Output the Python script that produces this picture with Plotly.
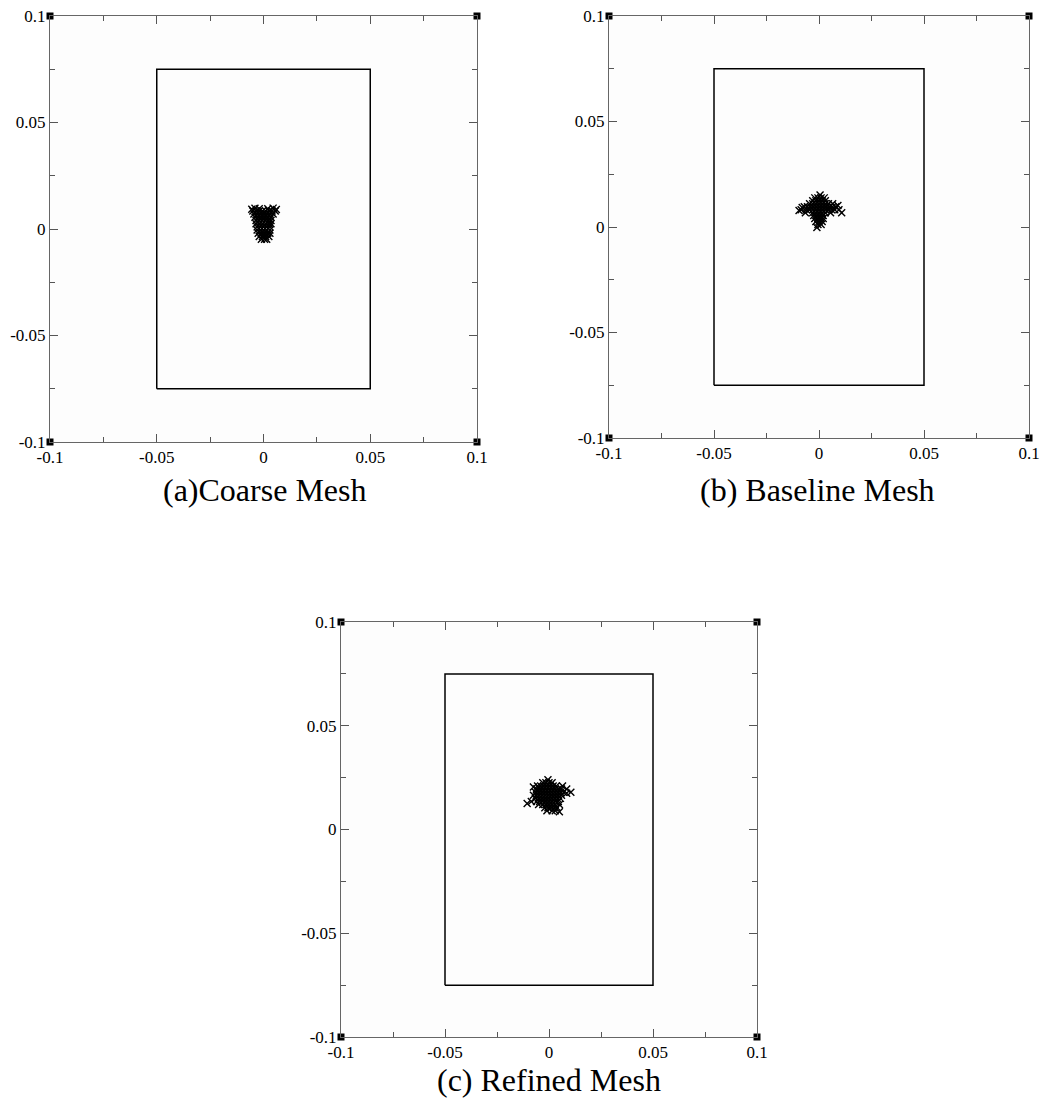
import plotly.graph_objects as go

# ---------------- data ----------------
tick_vals = [-0.1, -0.05, 0, 0.05, 0.1]
tick_labels = ["-0.1", "-0.05", "0", "0.05", "0.1"]

rect_x = [-0.05, 0.05, 0.05, -0.05, -0.05]
rect_y = [-0.075, -0.075, 0.075, 0.075, -0.075]

corner_x = [-0.1, 0.1, -0.1, 0.1]
corner_y = [0.1, 0.1, -0.1, -0.1]

coarse_x = [-0.005, -0.0035, -0.002, -0.0005, 0.001, 0.0025, 0.004, 0.0055,
            -0.0045, -0.003, -0.0015, 0.0, 0.0015, 0.003, 0.0045,
            -0.004, -0.0025, -0.001, 0.0005, 0.002, 0.0035,
            -0.0035, -0.002, -0.0005, 0.001, 0.0025, 0.0035,
            -0.0035, -0.002, -0.0005, 0.001, 0.0025, 0.0035,
            -0.003, -0.0015, 0.0, 0.0015, 0.003,
            -0.003, -0.0015, 0.0, 0.0015, 0.003,
            -0.0025, -0.001, 0.0005, 0.002, 0.003,
            -0.002, -0.0005, 0.001, 0.0025,
            -0.001, 0.0005, 0.0015,
            -0.0055, -0.002, 0.002, 0.006, 0.0045, -0.004]
coarse_y = [0.0085, 0.0085, 0.0085, 0.0085, 0.0085, 0.0085, 0.0085, 0.0085,
            0.007, 0.007, 0.007, 0.007, 0.007, 0.007, 0.007,
            0.0055, 0.0055, 0.0055, 0.0055, 0.0055, 0.0055,
            0.004, 0.004, 0.004, 0.004, 0.004, 0.004,
            0.0025, 0.0025, 0.0025, 0.0025, 0.0025, 0.0025,
            0.001, 0.001, 0.001, 0.001, 0.001,
            -0.0005, -0.0005, -0.0005, -0.0005, -0.0005,
            -0.002, -0.002, -0.002, -0.002, -0.002,
            -0.0035, -0.0035, -0.0035, -0.0035,
            -0.0048, -0.0048, -0.0048,
            0.0093, 0.0095, 0.0095, 0.0092, 0.0098, 0.0097]

baseline_x = [-0.002, -0.0005, 0.001, 0.0025,
              -0.003, -0.0015, 0.0, 0.0015, 0.003,
              -0.0045, -0.003, -0.0015, 0.0, 0.0015, 0.003, 0.0045, 0.0065,
              -0.007, -0.0055, -0.004, -0.0025, -0.001, 0.0005, 0.002, 0.0035, 0.005, 0.0065, 0.008,
              -0.0085, -0.006, -0.0045, -0.003, -0.0015, 0.0, 0.0015, 0.003, 0.0045, 0.006, 0.0075, 0.0095,
              -0.0065, -0.003, -0.0015, 0.0, 0.0015, 0.003, 0.0055,
              -0.0025, -0.001, 0.0005, 0.002,
              -0.002, -0.0005, 0.001, 0.002,
              -0.0015, 0.0, 0.0015,
              -0.0005, 0.001,
              -0.0095, 0.0108, 0.009, -0.008, 0.0005, -0.001]
baseline_y = [0.0138, 0.0138, 0.0138, 0.0138,
              0.0124, 0.0124, 0.0124, 0.0124, 0.0124,
              0.011, 0.011, 0.011, 0.011, 0.011, 0.011, 0.011, 0.011,
              0.0096, 0.0096, 0.0096, 0.0096, 0.0096, 0.0096, 0.0096, 0.0096, 0.0096, 0.0096, 0.0096,
              0.0082, 0.0082, 0.0082, 0.0082, 0.0082, 0.0082, 0.0082, 0.0082, 0.0082, 0.0082, 0.0082, 0.0082,
              0.0068, 0.0068, 0.0068, 0.0068, 0.0068, 0.0068, 0.0068,
              0.0054, 0.0054, 0.0054, 0.0054,
              0.004, 0.004, 0.004, 0.004,
              0.0026, 0.0026, 0.0026,
              0.0012, 0.0012,
              0.0078, 0.0068, 0.0102, 0.0092, 0.0152, -0.0002]

refined_x = [-0.003, -0.0015, 0.0, 0.0015,
             -0.0055, -0.004, -0.0025, -0.001, 0.0005, 0.002, 0.0035,
             -0.006, -0.0045, -0.003, -0.0015, 0.0, 0.0015, 0.003, 0.0045, 0.006, 0.0085,
             -0.0065, -0.005, -0.0035, -0.002, -0.0005, 0.001, 0.0025, 0.004, 0.0055, 0.007, 0.0105,
             -0.0075, -0.006, -0.0045, -0.003, -0.0015, 0.0, 0.0015, 0.003, 0.0045, 0.006,
             -0.0065, -0.005, -0.0035, -0.002, -0.0005, 0.001, 0.0025, 0.004, 0.0055,
             -0.0085, -0.006, -0.0045, -0.003, -0.0015, 0.0, 0.0015, 0.003, 0.0045,
             -0.005, -0.003, -0.0015, 0.0, 0.0015, 0.003, 0.005,
             -0.002, -0.0005, 0.001, 0.0025, 0.004,
             -0.001, 0.0015, 0.003,
             -0.0105, 0.0085, -0.0005, 0.005, -0.0075, 0.0065]
refined_y = [0.0225, 0.0225, 0.0225, 0.0225,
             0.021, 0.021, 0.021, 0.021, 0.021, 0.021, 0.021,
             0.0195, 0.0195, 0.0195, 0.0195, 0.0195, 0.0195, 0.0195, 0.0195, 0.0195, 0.0195,
             0.018, 0.018, 0.018, 0.018, 0.018, 0.018, 0.018, 0.018, 0.018, 0.018, 0.018,
             0.0165, 0.0165, 0.0165, 0.0165, 0.0165, 0.0165, 0.0165, 0.0165, 0.0165, 0.0165,
             0.015, 0.015, 0.015, 0.015, 0.015, 0.015, 0.015, 0.015, 0.015,
             0.0135, 0.0135, 0.0135, 0.0135, 0.0135, 0.0135, 0.0135, 0.0135, 0.0135,
             0.012, 0.012, 0.012, 0.012, 0.012, 0.012, 0.012,
             0.0105, 0.0105, 0.0105, 0.0105, 0.0105,
             0.009, 0.009, 0.009,
             0.0125, 0.0175, 0.024, 0.0085, 0.0205, 0.021]

captions = ["(a)Coarse Mesh", "(b) Baseline Mesh", "(c) Refined Mesh"]

# ---------------- figure ----------------
W, H = 1042, 1106
# pixel boxes of each panel: (left, right, top, bottom)
boxes = [(50, 477, 16, 442), (609, 1029, 16, 438), (341, 757, 622, 1037)]
clusters = [(coarse_x, coarse_y), (baseline_x, baseline_y), (refined_x, refined_y)]
caption_pos = [(264, 490), (817, 490), (549, 1080)]

FONT = "Liberation Serif, Times New Roman, serif"
fig = go.Figure()
layout = dict(width=W, height=H, margin=dict(l=0, r=0, t=0, b=0, autoexpand=False),
              paper_bgcolor="white", plot_bgcolor="#fdfdfd",
              font=dict(family=FONT, color="black"),
              showlegend=False, annotations=[])

for i, ((l, r, t, b), (cx, cy)) in enumerate(zip(boxes, clusters)):
    sfx = "" if i == 0 else str(i + 1)
    xa, ya = "x" + sfx, "y" + sfx
    fig.add_trace(go.Scatter(x=rect_x, y=rect_y, mode="lines",
                             line=dict(color="black", width=1.5),
                             xaxis=xa, yaxis=ya, hoverinfo="skip"))
    fig.add_trace(go.Scatter(x=cx, y=cy, mode="markers",
                             marker=dict(symbol="x-thin-open", size=7, color="black",
                                         line=dict(color="black", width=1.4)),
                             xaxis=xa, yaxis=ya))
    fig.add_trace(go.Scatter(x=corner_x, y=corner_y, mode="markers",
                             marker=dict(symbol="square", size=7, color="black"),
                             cliponaxis=False, xaxis=xa, yaxis=ya))
    common = dict(range=[-0.1, 0.1], tickvals=tick_vals, ticktext=tick_labels,
                  ticks="inside", ticklen=8, tickcolor="#555", tickwidth=1,
                  minor=dict(dtick=0.025, tick0=0, ticks="inside", ticklen=5,
                             tickcolor="#555", tickwidth=1),
                  showline=True, linecolor="#666", linewidth=1, mirror="ticks",
                  showgrid=False, zeroline=False, automargin=False,
                  tickfont=dict(family=FONT, size=17, color="black"))
    layout["xaxis" + sfx] = dict(common, domain=[l / W, r / W], anchor=ya)
    layout["yaxis" + sfx] = dict(common, domain=[1 - b / H, 1 - t / H], anchor=xa)
    px, py = caption_pos[i]
    layout["annotations"].append(dict(text=captions[i], x=px / W, y=1 - py / H,
                                      xref="paper", yref="paper", showarrow=False,
                                      xanchor="center", yanchor="middle",
                                      font=dict(family=FONT, size=32, color="black")))

fig.update_layout(**layout)
fig.write_html("out.html", config={"displayModeBar": False},
               post_script="document.body.style.margin='0';document.body.style.overflow='hidden';")
